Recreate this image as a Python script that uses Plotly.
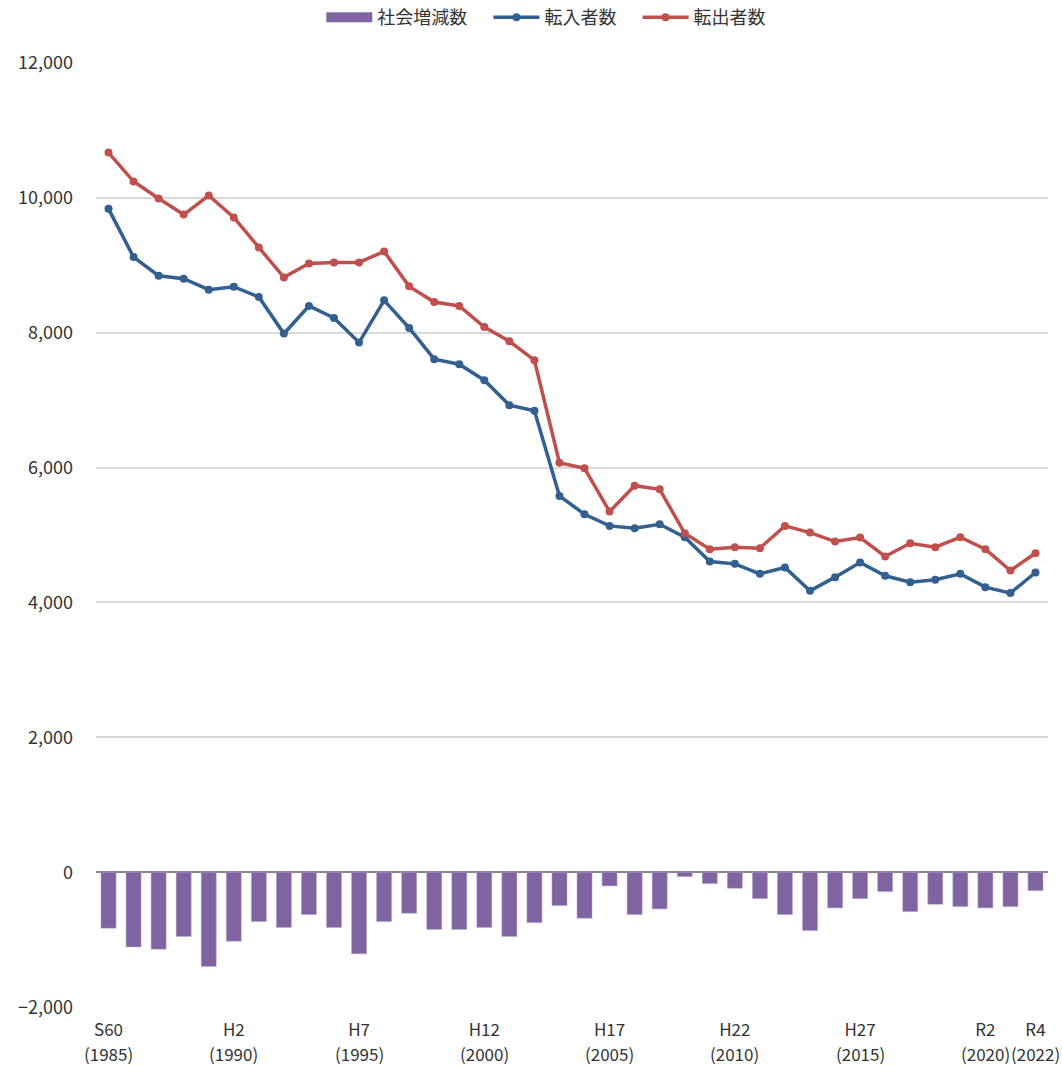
import plotly.graph_objects as go

years = list(range(1985, 2023))
tenyu = [9835, 9120, 8844, 8800, 8637, 8681, 8528, 7986, 8395, 8217,
         7853, 8479, 8069, 7606, 7532, 7295, 6925, 6841, 5579, 5307,
         5135, 5100, 5160, 4968, 4607, 4572, 4424, 4518, 4173, 4375,
         4592, 4395, 4301, 4336, 4424, 4227, 4139, 4444]
tenshutsu = [10669, 10240, 9988, 9751, 10033, 9707, 9263, 8819, 9026, 9041,
             9041, 9204, 8686, 8454, 8395, 8084, 7872, 7591, 6072, 5988,
             5347, 5731, 5677, 5026, 4790, 4820, 4805, 5135, 5036, 4903,
             4962, 4681, 4878, 4820, 4968, 4790, 4474, 4730]
shakai = [-829, -1106, -1140, -952, -1396, -1021, -730, -818, -626, -818,
          -1209, -730, -607, -848, -848, -818, -952, -746, -493, -681,
          -202, -627, -543, -64, -168, -237, -390, -627, -863, -528,
          -390, -286, -583, -474, -509, -528, -509, -272]
tick_years = [1985, 1990, 1995, 2000, 2005, 2010, 2015, 2020, 2022]
tick_era = ["S60", "H2", "H7", "H12", "H17", "H22", "H27", "R2", "R4"]
tick_western = ["(1985)", "(1990)", "(1995)", "(2000)", "(2005)",
                "(2010)", "(2015)", "(2020)", "(2022)"]

font = "Noto Sans CJK JP"
PURPLE = "#8064A2"
BLUE = "#335F91"
RED = "#C0504D"
TXT = "#333333"
GAP = "\u00a0" * 4

fig = go.Figure()
fig.add_trace(go.Bar(x=years, y=shakai, name="社会増減数", showlegend=False,
                     marker=dict(color=PURPLE, line=dict(color="#B7A6CC", width=0.5))))
# legend entry for the bars, drawn as a wide band like the original
fig.add_trace(go.Scatter(x=[None], y=[None], name="社会増減数" + GAP, mode="lines",
                         line=dict(color=PURPLE, width=10)))
fig.add_trace(go.Scatter(x=years, y=tenyu, name="転入者数" + GAP, mode="lines+markers",
                         line=dict(color=BLUE, width=3.5),
                         marker=dict(color=BLUE, size=8)))
fig.add_trace(go.Scatter(x=years, y=tenshutsu, name="転出者数", mode="lines+markers",
                         line=dict(color=RED, width=3.5),
                         marker=dict(color=RED, size=8)))

# second line of the x tick labels (western year)
for yr, lab in zip(tick_years, tick_western):
    fig.add_annotation(x=yr, xref="x", y=0, yref="paper", yanchor="middle",
                       yshift=-45, text=lab, showarrow=False,
                       font=dict(family=font, size=17, color=TXT))

fig.update_layout(
    width=1062, height=1066,
    margin=dict(l=96, r=14, t=62, b=58, autoexpand=False),
    plot_bgcolor="white", paper_bgcolor="white",
    font=dict(family=font, size=17, color=TXT),
    bargap=0.4,
    showlegend=True,
    legend=dict(orientation="h", x=0.473, xanchor="center", y=1.047, yanchor="middle",
                font=dict(size=18, color=TXT), traceorder="normal",
                itemwidth=46),
    xaxis=dict(range=[1984.5, 2022.5], tickmode="array", tickvals=tick_years,
               ticktext=tick_era, showgrid=False, zeroline=False,
               showline=False, ticks="", tickangle=0, ticklabelstandoff=10,
               tickfont=dict(size=17)),
    yaxis=dict(range=[-2012, 12012], tickmode="array",
               tickvals=[-2000, 0, 2000, 4000, 6000, 8000, 10000, 12000],
               tickformat=",", ticklabelstandoff=22,
               showgrid=True, gridcolor="#D9D9D9", gridwidth=1.5,
               zeroline=True, zerolinecolor="#868686", zerolinewidth=2,
               showline=False, ticks="", tickfont=dict(size=18)),
)
fig.write_html("out.html", config={"displayModeBar": False},
               post_script="document.body.style.margin='0';document.body.style.overflow='hidden';")
